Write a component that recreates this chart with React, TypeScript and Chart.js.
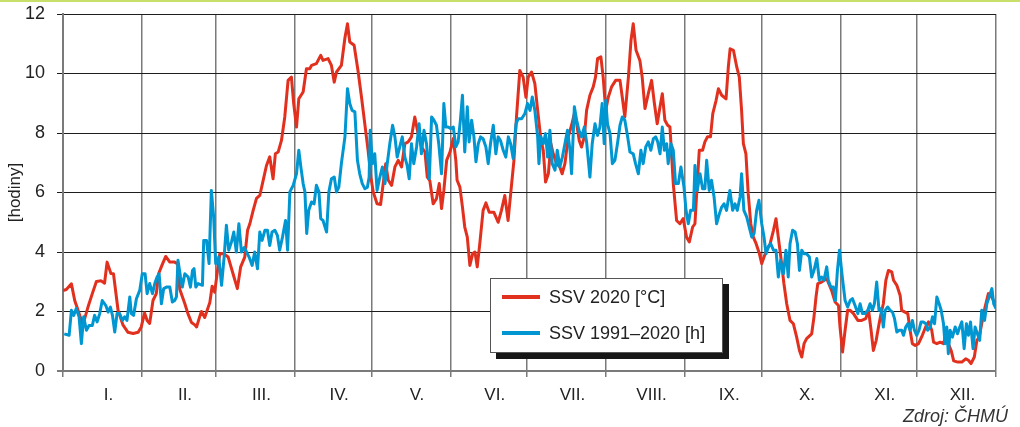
import React, { useEffect, useRef } from 'react';
import { Chart, registerables } from 'chart.js';

Chart.register(...registerables);

// day of year (0..366) and daily values
const redDays = [0,1.3,3.3,4.6,5.9,7.8,9.8,11.5,13.1,15,16.3,17.3,18.8,19.8,21.6,23.5,25.5,27.5,29.5,30.7,32,33,34,35.3,36.6,37.5,38.8,40.3,41.9,43.8,45,45.8,47.8,49,50.4,51.7,52.4,53.6,54.3,55.6,57.6,58.5,59.5,60.8,61.5,62.8,64.8,66.7,68.4,69.7,71.3,72.4,73.3,74.6,75.9,77.2,78.5,79.8,81.1,82.4,83.3,84.4,85.7,87,88.3,89.6,90.5,91.6,92.5,94.2,95.5,96.8,97.5,99.4,101.1,102,104,105.3,106.4,107.3,109.2,110.6,111.6,112.5,114.2,115.8,117.1,118.4,119.7,120.8,121.7,123.2,124.6,125.6,126.6,127.6,128.9,130.2,131.5,132.8,134.1,135.4,136.7,138,139.3,140.6,142,142.9,143.9,145.2,146.5,147.6,148.5,149.4,150.5,151.8,153.1,154.1,154.6,155.7,156.7,157.6,158.6,159.6,160.7,161.6,162.5,163.5,164.8,165.9,167.2,169,170.7,172,173.3,174.6,176,176.9,177.9,179.2,180.5,181.6,182.5,183.8,185.1,186.2,187.5,188.4,189.3,190.4,191.4,192.3,193.6,194.9,195.8,196.9,198.2,199.5,200.6,201.5,202.5,203.4,204.5,205.4,206.7,208,208.9,209.7,211,211.9,212.9,213.9,215.2,216.8,218.5,219.4,220.4,221.8,222.8,223.7,224.8,226.3,227.2,228.3,229.6,230.9,232,233.1,234.2,235.1,236.1,237.2,238.1,239.4,240.7,242,243.3,244.6,245.7,247,247.9,248.8,249.6,250.9,251.8,252.8,254,254.9,256.2,257.1,258.4,260.1,261,261.7,263,264.3,265.3,266.2,266.9,267.9,268.8,269.8,270.8,271.9,273.2,274.1,275,276,277.4,278.7,279.7,280.6,281.9,282.8,283.9,285.2,286.5,287.8,288.9,289.8,290.7,291.7,293.7,294.6,295.4,296.1,297.6,299.6,301.5,302.9,304.2,304.8,305.8,306.8,307.8,308.8,310.1,311.8,313.3,314.9,316,317,317.9,319,319.9,320.9,321.8,322.8,323.8,325.1,325.8,327.1,328.4,329,330.3,331.4,332.3,333.2,334.3,335.6,337.1,338.4,339.5,340.8,341.5,342.8,344.1,345.4,346.3,347.3,348.4,349.4,351,352.6,354.1,355.2,356.2,357.5,358.5,359.4,360.4,361.7,363,364.3,365.4];
const redValues = [2.7,2.74,2.93,2.37,2.04,1.55,2.15,2.6,3.01,3.03,2.95,3.66,3.28,3.27,2.04,1.55,1.3,1.26,1.3,1.48,1.95,1.7,1.6,2.37,2.6,3.27,3.55,3.85,3.66,3.66,3.6,2.75,2.26,1.93,1.63,1.55,1.48,1.82,2.0,1.8,2.3,2.85,2.65,3.5,3.94,3.95,3.83,3.27,2.77,3.5,3.83,4.73,4.95,5.4,5.8,5.9,6.4,6.9,7.2,6.46,7.3,7.36,7.75,8.54,9.77,9.88,8.99,8.2,9.15,9.38,10.16,10.16,10.27,10.33,10.61,10.44,10.5,10.27,9.71,10.05,10.27,11.2,11.67,11.06,10.95,10.05,9.2,8.3,7.4,6.5,6.02,5.62,5.6,6.3,6.97,6.41,6.24,6.86,7.08,6.86,7.64,7.7,7.87,8.54,7.98,7.53,7.36,6.52,6.4,5.62,5.79,6.3,5.46,6.07,7.08,7.36,7.81,7.08,6.41,6.18,5.51,4.84,4.5,3.55,3.94,4.0,3.5,4.28,5.4,5.65,5.34,5.34,5.0,5.4,5.9,5.06,6.3,7.08,8.54,10.1,9.88,9.2,9.88,10.05,9.66,8.76,7.75,7.42,6.35,6.63,7.64,7.3,6.97,6.86,6.63,6.97,7.87,8.26,8.65,8.31,7.75,7.53,7.87,8.76,9.27,9.55,9.88,10.5,10.56,9.88,8.76,9.2,9.55,9.77,9.77,9.2,8.54,9.88,11.1,11.67,10.78,10.44,9.88,8.82,9.32,9.77,8.99,8.31,8.88,9.32,8.43,8.26,8.2,6.3,5.06,4.95,5.12,4.5,4.34,4.84,4.95,6.3,7.42,7.42,7.7,7.87,7.87,8.65,9.1,9.49,9.27,9.15,10.22,10.83,10.78,10.22,9.88,8.76,7.64,7.3,5.96,4.95,4.5,4.28,3.94,3.61,3.83,4.06,4.28,4.73,5.12,4.5,3.61,2.94,2.26,1.7,1.59,1.14,0.69,0.47,0.92,1.09,1.25,1.82,2.49,2.94,2.99,3.1,2.71,2.32,2.2,1.48,0.64,1.37,2.04,2.04,1.93,1.7,1.7,1.76,2.04,1.37,0.69,1.03,1.48,1.93,2.26,3.05,3.38,3.33,3.05,2.88,2.54,2.04,1.98,1.93,1.37,0.92,0.86,0.92,1.2,1.48,1.65,1.37,0.97,0.92,0.97,0.92,1.2,0.92,0.69,0.34,0.3,0.3,0.41,0.36,0.25,0.47,1.03,1.14,1.59,2.15,2.6,2.49,2.3];

const blueDays = [0.5,2.4,3.3,4.2,5.2,6.3,7.2,8.1,9.2,10.2,11.5,12.4,13.4,14.4,15.4,16.8,17.7,18.6,19.4,20.3,21.2,22.2,23.3,24.2,25.1,26.2,26.8,27.7,28.8,30.1,31.1,32.2,33,34,35.1,36,36.9,37.7,38.6,39.5,40.6,41.9,42.9,43.8,44.5,45.1,46.1,46.8,47.8,49.1,50,50.8,51.4,52.1,53,54.7,55.2,56.3,57.3,58.2,59.1,59.9,60.8,61.1,62.2,63.2,64.1,65,66.1,67,68,69,70,71.1,72,73,74.2,75.2,76.3,77.2,78.1,79.2,80.2,81.1,82,83.1,84.1,85,86.1,87.3,88.1,89,90.3,91.6,92.5,93.3,94.2,94.9,95.6,96.4,97.5,98.5,99.4,100.4,101.1,102,103.4,104.3,105.3,106.4,107.3,108.2,109.2,110.6,111.6,112.5,113.4,114.5,115.5,116.4,117.4,118.4,119.4,120.1,120.5,121.4,122.3,123.2,124.3,125.3,126.3,127.2,128.2,129.3,130.2,131.1,132.1,133.1,134.1,135,135.8,136.7,137.6,138.7,139.7,140.6,141.6,142.6,143.7,144.6,145.5,146.5,147.4,148.5,149.4,150.2,151.1,152,153.1,154.1,155,155.9,156.7,157.6,158.6,159.3,160.3,161.2,162,162.9,163.8,164.8,165.9,166.8,167.7,168.8,169.8,170.7,171.6,172.7,173.7,174.7,175.6,176.6,177.7,178.6,179.9,181.2,182.2,183.2,184.1,185.1,186.2,186.7,187.5,188.4,189.3,190.1,191,191.9,193,193.9,194.9,195.9,196.9,197.9,198.9,199.5,200.6,201.5,202.4,203.4,204.5,205.4,206.7,207.6,208.7,209.7,210.6,211.5,212.3,212.9,213.6,214.6,215.5,216.5,217.6,218.5,219.4,220.4,221.5,222.4,223.7,224.6,225.7,226.7,227.6,228.6,229.6,230.6,231.6,232.5,233.3,234.2,235.1,235.9,236.8,237.4,238.5,239.4,240.3,241.4,242.4,243.6,244.4,245.3,246.2,247.3,247.9,248.8,249.9,250.9,251.8,252.5,253.5,254.4,255.4,256.4,257.5,258.4,259.3,260.3,261.6,262.7,263.6,264.5,265.6,266.2,267.1,268.2,269.2,270.2,271.1,272.1,273,274.1,275,275.8,276.7,277.6,278.7,279.7,280.6,281.5,282.6,283.6,284.5,285.2,286.2,287.2,288.1,288.9,289.8,290.7,291.7,292.8,293.7,294.6,295.7,296.7,297.6,298.5,299.6,300.2,301.2,302.2,303,303.8,304.6,305.7,306.8,307.8,308.8,309.7,310.7,311.8,312.7,313.6,314.6,315.7,316.6,317.5,318.3,319.2,320.1,320.9,321.8,322.5,323.5,324.5,325.4,326.2,327.1,328,329,329.7,330.6,331.4,332.3,333.2,334,334.9,335.8,336.6,337.5,338.5,339.2,340.2,341.1,341.9,342.8,343.7,344.5,345.4,346,346.7,347.3,348,348.9,350,350.9,351.8,352.6,353.5,354.4,355.2,356,357,357.8,358.9,359.6,360.4,361.5,362.4,363.3,364.4,365.1,366];
const blueValues = [1.25,1.2,2.04,1.87,2.1,1.82,0.92,1.82,1.37,1.53,1.53,1.87,1.65,1.93,2.37,2.2,1.98,2.15,1.87,1.31,1.93,1.93,1.7,1.82,1.7,2.49,1.93,1.87,2.43,2.71,3.27,3.27,2.6,2.94,2.6,2.94,3.16,3.27,2.26,2.77,2.82,2.82,2.32,2.37,2.49,3.72,3.16,2.82,3.27,3.16,2.82,3.38,3.44,2.82,2.94,2.88,4.39,4.39,3.61,6.07,5.18,3.61,3.7,3.83,2.88,3.83,4.9,4.06,4.34,4.67,4.0,4.95,4.0,4.15,4.0,3.83,3.55,4.0,3.44,4.67,4.39,4.73,4.73,4.22,4.67,4.73,4.56,4.06,4.5,5.06,4.06,6.02,6.24,6.63,7.42,6.86,6.3,6.02,4.62,5.4,5.68,5.62,6.24,6.02,5.12,5.06,4.67,6.02,6.46,6.52,6.02,6.18,6.97,7.87,9.49,8.99,8.76,8.71,7.08,6.63,6.3,6.13,6.18,6.52,8.09,6.97,7.3,6.07,6.52,6.86,6.3,6.97,7.64,8.26,7.87,7.19,7.53,7.87,7.19,6.91,6.46,7.64,6.97,7.53,8.31,7.3,8.09,7.64,6.46,8.54,8.43,8.26,7.64,6.63,8.99,8.2,8.2,8.15,8.2,7.53,7.7,8.43,9.27,7.36,8.88,7.7,8.43,7.87,7.03,7.64,7.87,7.81,7.53,6.97,7.64,8.26,7.3,7.87,7.75,7.42,7.19,7.87,7.64,7.14,8.31,8.48,8.48,8.65,8.99,8.76,9.21,8.76,7.87,6.97,7.87,7.64,7.98,7.19,8.09,6.97,6.75,7.42,6.86,7.19,7.64,8.09,7.42,6.63,8.88,8.43,8.09,7.87,8.2,7.7,6.52,7.64,8.31,7.92,8.2,8.99,7.64,9.1,8.31,7.98,6.97,7.08,7.7,8.26,8.54,8.43,7.87,7.36,7.3,6.97,6.63,7.42,6.97,7.53,7.7,7.42,7.81,7.87,7.7,7.3,8.2,7.42,7.64,6.97,7.64,7.42,6.3,6.3,6.86,6.18,5.4,4.95,5.4,5.4,6.91,6.07,6.63,6.13,6.13,7.08,6.07,6.41,5.85,4.95,5.29,5.51,5.62,5.4,6.07,5.4,5.62,5.4,5.85,6.63,5.4,5.18,4.84,4.5,4.62,5.4,5.74,4.95,4.5,3.94,4.17,4.28,4.06,4.06,3.16,3.72,3.27,4.06,3.16,4.28,4.73,4.67,4.28,3.38,4.06,3.94,3.94,3.83,3.16,3.38,3.78,3.05,3.16,3.05,3.5,3.05,2.82,2.82,2.37,3.38,4.06,3.16,2.37,2.15,2.37,2.43,2.2,1.93,2.26,1.93,1.93,2.04,2.26,2.04,2.26,2.99,2.04,2.1,1.48,2.04,2.15,2.04,1.98,1.76,1.31,1.37,1.37,1.2,1.48,1.59,1.37,1.7,1.37,1.2,1.37,1.65,1.65,1.59,1.37,1.48,1.82,1.59,2.49,2.26,2.04,1.59,0.92,1.48,0.58,1.37,1.14,1.48,1.25,1.48,1.65,0.75,1.59,1.2,1.65,0.75,1.48,1.2,1.03,2.04,1.7,2.26,2.49,2.77,2.26,2.1];

const monthBounds = [0, 31, 60, 91, 121, 152, 182, 213, 244, 274, 305, 335, 366];
const monthLabels = ['I.', 'II.', 'III.', 'IV.', 'V.', 'VI.', 'VII.', 'VIII.', 'IX.', 'X.', 'XI.', 'XII.'];
const yTickStep = 2;

const RED = '#e1301e';
const BLUE = '#0096d1';
const FONT = "'Liberation Sans', Arial, Helvetica, sans-serif";

export default function App() {
  const ref = useRef<HTMLCanvasElement>(null);

  useEffect(() => {
    if (!ref.current) return;
    const centers = monthBounds.slice(0, -1).map((b, i) => (b + monthBounds[i + 1]) / 2);
    const allTicks = [...monthBounds, ...centers].sort((a, b) => a - b);
    const isBound = (v: number) => monthBounds.includes(v);
    const xGridColor = (c: any) => (c.tick && isBound(c.tick.value) ? '#7a7a7a' : 'rgba(0,0,0,0)');
    const yGridColor = (c: any) => (c.tick && c.tick.value === 0 ? '#7a7a7a' : '#1e1e1e');

    Chart.defaults.font.family = FONT;

    const chart = new Chart(ref.current, {
      type: 'line',
      data: {
        datasets: [
          {
            label: 'SSV 1991–2020 [h]',
            data: blueDays.map((d, i) => ({ x: d, y: blueValues[i] })),
            borderColor: BLUE,
            backgroundColor: BLUE,
            borderWidth: 3,
            pointRadius: 0,
            tension: 0,
            fill: false,
            borderJoinStyle: 'round',
          },
          {
            label: 'SSV 2020 [°C]',
            data: redDays.map((d, i) => ({ x: d, y: redValues[i] })),
            borderColor: RED,
            backgroundColor: RED,
            borderWidth: 3,
            pointRadius: 0,
            tension: 0,
            fill: false,
            borderJoinStyle: 'round',
          },
        ],
      },
      options: {
        responsive: false,
        animation: false,
        devicePixelRatio: 1,
        layout: { padding: { top: 14, right: 24, left: 0, bottom: 0 } },
        plugins: { legend: { display: false }, tooltip: { enabled: false } },
        scales: {
          x: {
            type: 'linear',
            min: 0,
            max: 366,
            afterBuildTicks: (s: any) => {
              s.ticks = allTicks.map((v) => ({ value: v }));
            },
            afterFit: (s: any) => {
              s.height = 56;
              s.paddingLeft = 0;
              s.paddingRight = 0;
            },
            grid: {
              color: xGridColor,
              tickColor: xGridColor,
              lineWidth: 1.5,
              tickLength: 6,
            },
            border: { display: true, color: '#7a7a7a', width: 2 },
            ticks: {
              autoSkip: false,
              maxRotation: 0,
              minRotation: 0,
              padding: 8,
              labelOffset: 6,
              color: '#222',
              font: { size: 17 },
              callback: (v: any) => {
                const i = centers.indexOf(Number(v));
                return i >= 0 ? monthLabels[i] : '';
              },
            },
          },
          y: {
            min: 0,
            max: 12,
            afterFit: (s: any) => {
              s.width = 63;
              s.paddingTop = 0;
              s.paddingBottom = 0;
            },
            ticks: { stepSize: yTickStep, padding: 12, color: '#222', font: { size: 18 } },
            grid: {
              color: yGridColor,
              tickColor: yGridColor,
              lineWidth: (c: any) => (c.tick && c.tick.value === 0 ? 2 : 1),
              tickLength: 6,
            },
            border: { display: true, color: '#7a7a7a', width: 2 },
            title: {
              display: true,
              text: '[hodiny]',
              color: '#222',
              font: { size: 17 },
              padding: { top: 5, bottom: 0 },
            },
          },
        },
      },
    });
    return () => chart.destroy();
  }, []);

  const legendText: React.CSSProperties = {
    position: 'absolute',
    left: 58,
    fontFamily: FONT,
    fontSize: 18,
    lineHeight: '20px',
    color: '#222',
    whiteSpace: 'nowrap',
  };

  return (
    <div style={{ position: 'absolute', left: 0, top: 0, width: 1020, height: 427, background: '#fff', overflow: 'hidden' }}>
      <div style={{ position: 'absolute', left: 0, top: 0, width: 1020, height: 2, background: '#c8e06a' }} />
      <canvas ref={ref} width={1020} height={427} style={{ position: 'absolute', left: 0, top: 0, width: 1020, height: 427 }} />
      <div
        style={{
          position: 'absolute',
          left: 490,
          top: 278,
          width: 233,
          height: 75,
          boxSizing: 'border-box',
          border: '1px solid #555',
          background: '#fff',
          boxShadow: '6px 6px 0 #161616',
        }}
      >
        <div style={{ position: 'absolute', left: 11, top: 16, width: 38, height: 4, background: RED }} />
        <div style={{ ...legendText, top: 8 }}>SSV 2020 [°C]</div>
        <div style={{ position: 'absolute', left: 11, top: 52, width: 38, height: 4, background: BLUE }} />
        <div style={{ ...legendText, top: 44 }}>SSV 1991–2020 [h]</div>
      </div>
      <div
        style={{
          position: 'absolute',
          right: 12,
          top: 406,
          fontFamily: FONT,
          fontSize: 18,
          fontStyle: 'italic',
          lineHeight: '20px',
          color: '#333',
          whiteSpace: 'nowrap',
        }}
      >
        Zdroj: ČHMÚ
      </div>
    </div>
  );
}
